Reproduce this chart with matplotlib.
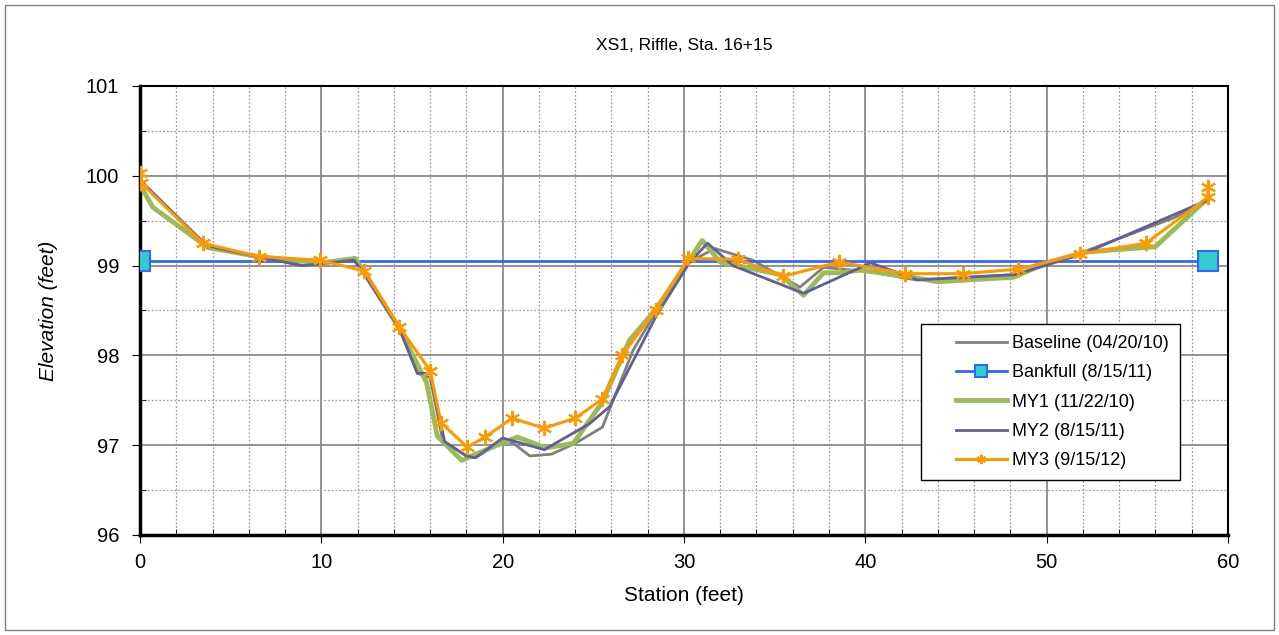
import matplotlib
matplotlib.use("Agg")
import matplotlib.pyplot as plt
from matplotlib.patches import Rectangle
from matplotlib.ticker import MultipleLocator
from matplotlib.legend_handler import HandlerLine2D

matplotlib.rc("font", family="Liberation Sans", size=12)

# cross-section survey data (station, elevation) in feet
base_x = [0, 3.7, 6.5, 9.0, 10.0, 11.8, 12.3, 14.3, 15.3, 16.0, 16.7, 18.0, 18.5, 20.0, 20.6, 21.5, 22.7, 24.0, 25.5, 27.2, 28.5, 30.2, 31.7, 33.8, 36.4, 37.7, 40.3, 42.8, 48.3, 52.0, 57.0, 58.9]
base_y = [99.95, 99.2, 99.1, 99.0, 99.03, 99.07, 98.93, 98.3, 97.8, 97.75, 97.05, 96.88, 96.86, 97.05, 97.02, 96.88, 96.9, 97.02, 97.2, 98.06, 98.5, 99.03, 99.19, 99.06, 98.76, 98.98, 98.93, 98.84, 98.9, 99.15, 99.53, 99.72]

bank_x = [0, 58.9]
bank_y = [99.05, 99.05]

my1_x = [0, 0.7, 3.75, 6.5, 10.0, 11.86, 12.3, 14.3, 15.8, 16.4, 17.75, 18.5, 20.8, 22.4, 23.9, 25.5, 27.0, 28.4, 30.2, 31.0, 32.0, 35.3, 36.6, 37.7, 38.6, 39.7, 42.6, 44.0, 48.2, 50.0, 52.1, 56.0, 58.9]
my1_y = [99.9, 99.65, 99.2, 99.1, 99.03, 99.08, 98.95, 98.3, 97.7, 97.1, 96.83, 96.9, 97.09, 96.97, 97.02, 97.48, 98.17, 98.5, 99.03, 99.28, 99.04, 98.9, 98.67, 98.92, 98.92, 98.95, 98.87, 98.82, 98.87, 99.03, 99.15, 99.21, 99.75]

my2_x = [0, 3.7, 6.5, 8.9, 10.0, 11.8, 12.3, 14.3, 15.3, 16.0, 16.8, 18.0, 18.5, 20.0, 22.3, 24.8, 25.9, 28.5, 30.3, 31.3, 32.7, 36.6, 40.3, 42.9, 48.3, 52.0, 58.9]
my2_y = [99.95, 99.22, 99.1, 99.0, 99.02, 99.06, 98.92, 98.3, 97.8, 97.8, 97.04, 96.88, 96.86, 97.08, 96.95, 97.24, 97.43, 98.45, 99.03, 99.25, 99.0, 98.69, 99.03, 98.84, 98.9, 99.13, 99.73]

my3_x = [0, 0.05, 3.47, 6.56, 9.93, 12.36, 14.29, 16.0, 16.6, 18.04, 19.03, 20.52, 22.28, 23.99, 25.48, 26.59, 28.46, 30.23, 32.98, 35.47, 38.56, 42.19, 45.39, 48.43, 51.85, 55.49, 58.9, 58.9]
my3_y = [100.03, 99.92, 99.25, 99.10, 99.06, 98.94, 98.32, 97.83, 97.25, 96.98, 97.09, 97.30, 97.19, 97.30, 97.51, 98.0, 98.51, 99.08, 99.07, 98.88, 99.04, 98.91, 98.91, 98.96, 99.13, 99.25, 99.76, 99.88]

fig = plt.figure(figsize=(12.79, 6.35), dpi=100)
fig.patches.append(Rectangle((0.004, 0.008), 0.992, 0.984, transform=fig.transFigure,
                             fill=False, edgecolor="#808080", linewidth=1))
ax = fig.add_axes([0.1095, 0.1575, 0.8505, 0.7071])

ax.plot(base_x, base_y, color="#808080", linewidth=2, label="Baseline (04/20/10)", zorder=3)
ax.plot(bank_x, bank_y, color="#3366FF", linewidth=2, marker="s", markersize=14,
        markerfacecolor="#33CCCC", markeredgecolor="#3366FF", markeredgewidth=1.5,
        label="Bankfull (8/15/11)", zorder=3)
ax.plot(my1_x, my1_y, color="#9BBB59", linewidth=3.5, label="MY1 (11/22/10)", zorder=4)
ax.plot(my2_x, my2_y, color="#5F5F9A", linewidth=2, label="MY2 (8/15/11)", zorder=5)
ax.plot(my3_x, my3_y, color="#FF9900", linewidth=2.2, marker=(6, 2, 0), markersize=11,
        markeredgecolor="#FF9900", markeredgewidth=1.5, label="MY3 (9/15/12)", zorder=6)

ax.set_xlim(0, 60)
ax.set_ylim(96, 101)
ax.xaxis.set_major_locator(MultipleLocator(10))
ax.xaxis.set_minor_locator(MultipleLocator(2))
ax.yaxis.set_major_locator(MultipleLocator(1))
ax.yaxis.set_minor_locator(MultipleLocator(0.5))
ax.grid(which="major", color="#808080", linewidth=1.2, linestyle="-")
ax.grid(which="minor", color="#A0A0A0", linewidth=0.9, linestyle=(0, (1.5, 1.5)))
ax.set_axisbelow(True)
ax.tick_params(which="major", direction="out", length=6, labelsize=14.5)
ax.tick_params(axis="y", which="major", pad=9)
ax.tick_params(axis="x", which="major", pad=7)
ax.tick_params(which="minor", direction="in", length=4)
for s in ax.spines.values():
    s.set_linewidth(1.5)
    s.set_color("black")
ax.spines["left"].set_linewidth(2.5)
ax.spines["bottom"].set_linewidth(2.5)

ax.set_title("XS1, Riffle, Sta. 16+15", fontsize=12.5, pad=26)
ax.set_xlabel("Station (feet)", fontsize=15, labelpad=10)
ax.set_ylabel("Elevation (feet)", fontsize=15, style="italic", labelpad=20)

hmap = {l: HandlerLine2D(xpad=1.3) for l in ax.get_lines()}
leg = ax.legend(loc="lower right", bbox_to_anchor=(0.956, 0.1225), borderaxespad=0,
                fontsize=13, frameon=True, fancybox=False, edgecolor="black",
                framealpha=1, handlelength=4.15, handletextpad=0.3, labelspacing=0.68,
                borderpad=0.6, markerscale=0.6, handler_map=hmap)
leg.get_frame().set_linewidth(1)

plt.savefig("out.png", dpi=100)
